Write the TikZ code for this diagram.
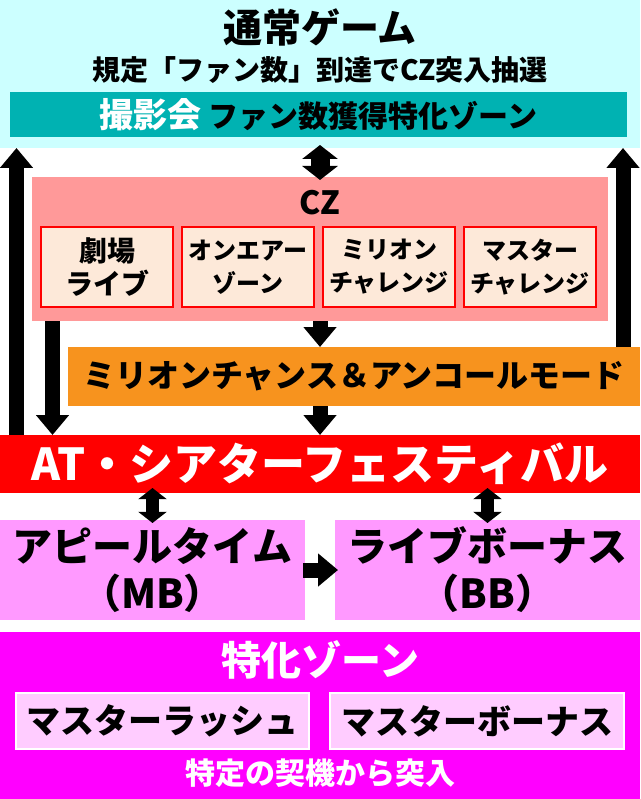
\documentclass[tikz,border=0pt]{standalone}
\usepackage{fontspec}
\setmainfont{Noto Sans CJK JP}[BoldFont={Noto Sans CJK JP Black}]
\usetikzlibrary{arrows.meta}
\definecolor{normalbg}{HTML}{CCFFFF}
\definecolor{photobar}{HTML}{00B2B2}
\definecolor{czbg}{HTML}{FF9999}
\definecolor{czsub}{HTML}{FDE9D9}
\definecolor{chance}{HTML}{F7931E}
\definecolor{atred}{HTML}{FF0000}
\definecolor{bonus}{HTML}{FF99FF}
\definecolor{zone}{HTML}{FF00FF}
\definecolor{zonesub}{HTML}{FFCCFF}
\tikzset{
  panel/.style={inner sep=0pt, outer sep=0pt},
  jp/.style={font=\bfseries\fontsize{#1}{#1}\selectfont},
  jplines/.style 2 args={font=\bfseries\fontsize{#1}{#2}\selectfont, align=center},
  bigarrow/.style={line width=15pt, -{Triangle[width=32pt,length=20pt]}},
  dblarrow/.style 2 args={line width=#1, {Triangle[width=#2,length=0.4*#2]}-{Triangle[width=#2,length=0.4*#2]}}
}
\begin{document}
\begin{tikzpicture}[x=1pt,y=-1pt]
	\useasboundingbox (0,0) rectangle (640,799);
	
	% normal game
	\node[panel, fill=normalbg, minimum width=640pt, minimum height=148pt] (normal) at (320,74) {};
	\node[jp=39] (title) at (320,27) {通常ゲーム};
	\node[jp=28] (rule) at (320,70) {規定「ファン数」到達でCZ突入抽選};
	\node[panel, fill=photobar, minimum width=617pt, minimum height=45pt, jp=30] (photo) at (318.5,114.5)
		{\textcolor{white}{\fontsize{34}{34}\selectfont 撮影会} ファン数獲得特化ゾーン};
	
	% CZ
	\node[panel, fill=czbg, minimum width=576pt, minimum height=144pt] (cz) at (320,249) {};
	\node[jp=32] (czlabel) at (320,203) {CZ};
	\foreach \x/\fs/\txt [count=\i] in {107/28/劇場\\ライブ, 248/24/オンエアー\\ゾーン, 389/24/ミリオン\\チャレンジ, 530/24/マスター\\チャレンジ}
		\node[panel, draw=atred, line width=1.5pt, fill=czsub, minimum width=132pt, minimum height=80pt,
			jplines={\fs}{33}] (cz\i) at (\x,267) {\txt};
	
	% chance & encore
	\node[panel, fill=chance, minimum width=572pt, minimum height=59pt, jp=32] (chance) at (354,376.5)
		{ミリオンチャンス＆アンコールモード};
	
	% AT
	\node[panel, fill=atred, minimum width=640pt, minimum height=58pt, jp=44, text=white] (at) at (320,464)
		{AT・シアターフェスティバル};
	
	% bonuses
	\node[panel, fill=bonus, minimum width=305pt, minimum height=100pt, jplines={40}{47}] (appeal) at (152.5,570)
		{アピールタイム\\（MB）};
	\node[panel, fill=bonus, minimum width=305pt, minimum height=100pt, jplines={40}{47}] (live) at (487.5,570)
		{ライブボーナス\\（BB）};
	
	% special zone
	\node[panel, fill=zone, minimum width=640pt, minimum height=167pt] (zone) at (320,715.5) {};
	\node[jp=40, text=white] (zonelabel) at (320,660) {特化ゾーン};
	\node[panel, draw=white, line width=2pt, fill=zonesub, minimum width=293pt, minimum height=56pt, jp=34] (rush) at (162.5,721) {マスターラッシュ};
	\node[panel, draw=white, line width=2pt, fill=zonesub, minimum width=294pt, minimum height=56pt, jp=34] (master) at (477,721) {マスターボーナス};
	\node[jp=30, text=white] (trigger) at (320,773) {特定の契機から突入};
	
	% arrows
	\draw[bigarrow] ([xshift=16.5pt]at.north west) -- ([xshift=16.5pt]at.north west |- normal.south);
	\draw[bigarrow] ([xshift=-17pt]chance.north east) -- ([xshift=-17pt]chance.north east |- normal.south);
	\draw[dblarrow={19pt}{35pt}] ([yshift=3pt]normal.south) -- ([yshift=-3pt]cz.north);
	\draw[bigarrow] ([xshift=20.5pt]cz.south west) -- ([xshift=20.5pt]cz.south west |- at.north);
	\draw[bigarrow] (cz.south) -- (cz.south |- chance.north);
	\draw[bigarrow] (chance.south -| cz.south) -- (at.north);
	\draw[dblarrow={13pt}{28pt}] ([yshift=5pt]at.south -| appeal.north) -- ([yshift=-3pt]appeal.north);
	\draw[dblarrow={13pt}{28pt}] ([yshift=5pt]at.south -| live.north) -- ([yshift=-3pt]live.north);
	\draw[bigarrow] ([xshift=-2pt]appeal.east) -- ([xshift=3pt]live.west);
\end{tikzpicture}
\end{document}
